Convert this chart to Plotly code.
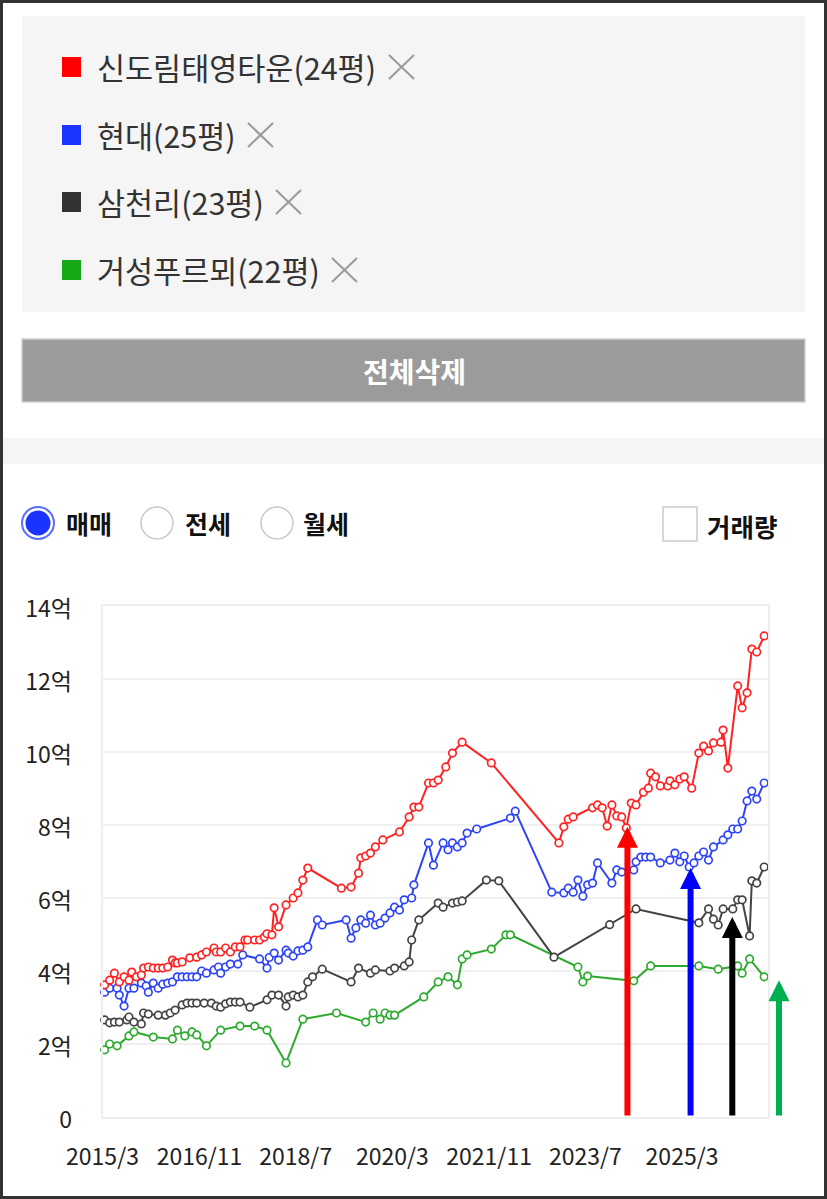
import plotly.graph_objects as go

W, H = 827, 1199
KR = "Noto Sans CJK KR"

# ---- data (억 원) ----
red_dates = ["2015-03-15", "2015-04-15", "2015-05-15", "2015-06-15", "2015-07-15", "2015-08-15",
             "2015-09-01", "2015-10-01", "2015-11-01", "2015-11-15", "2015-12-15", "2016-01-15",
             "2016-02-15", "2016-03-15", "2016-04-15", "2016-05-15", "2016-06-01", "2016-06-15",
             "2016-07-15", "2016-09-01", "2016-10-15", "2016-11-15", "2016-12-15", "2017-02-01",
             "2017-02-15", "2017-03-15", "2017-04-15", "2017-05-15", "2017-06-15", "2017-07-15",
             "2017-08-15", "2017-09-01", "2017-10-15", "2017-11-15", "2017-12-15", "2018-01-01",
             "2018-02-01", "2018-02-15", "2018-03-15", "2018-05-01", "2018-06-15", "2018-07-15",
             "2018-08-15", "2018-09-15", "2019-04-15", "2019-06-15", "2019-08-01", "2019-08-15",
             "2019-09-15", "2019-10-15", "2019-11-15", "2020-01-01", "2020-04-15", "2020-06-15",
             "2020-07-15", "2020-08-15", "2020-10-15", "2020-11-15", "2020-12-15", "2021-02-01",
             "2021-03-15", "2021-05-15", "2021-11-15", "2023-01-15", "2023-02-15", "2023-03-15",
             "2023-04-15", "2023-08-15", "2023-09-15", "2023-10-15", "2023-11-15", "2023-12-15",
             "2024-01-15", "2024-02-15", "2024-03-15", "2024-04-15", "2024-05-15", "2024-07-01",
             "2024-08-01", "2024-08-15", "2024-09-15", "2024-10-15", "2024-12-01", "2024-12-15",
             "2025-01-15", "2025-02-15", "2025-03-15", "2025-05-01", "2025-06-15", "2025-07-15",
             "2025-08-15", "2025-09-15", "2025-11-01", "2025-11-15", "2025-12-15", "2026-02-15",
             "2026-03-15", "2026-04-15", "2026-05-15", "2026-06-15", "2026-08-01"]
red_vals = [3.62, 3.75, 3.94, 3.70, 3.84, 3.75,
            3.97, 3.84, 3.89, 4.08, 4.11, 4.08,
            4.08, 4.08, 4.11, 4.30, 4.22, 4.22,
            4.25, 4.36, 4.38, 4.44, 4.52, 4.63,
            4.52, 4.52, 4.63, 4.52, 4.66, 4.66,
            4.85, 4.85, 4.85, 4.85, 4.93, 5.02,
            4.99, 5.73, 5.21, 5.81, 6.00, 6.14,
            6.49, 6.82, 6.27, 6.30, 6.68, 7.10,
            7.15, 7.23, 7.40, 7.59, 7.81, 8.22,
            8.49, 8.49, 9.15, 9.15, 9.23, 9.59,
            9.97, 10.27, 9.70, 7.51, 7.95, 8.16,
            8.22, 8.47, 8.55, 8.47, 7.97, 8.55,
            8.25, 8.22, 7.92, 8.60, 8.55, 8.90,
            9.01, 9.42, 9.32, 9.07, 9.07, 9.21,
            9.10, 9.26, 9.32, 9.01, 9.97, 10.16,
            10.03, 10.25, 10.27, 10.60, 9.56, 11.81,
            11.21, 11.62, 12.82, 12.74, 13.18]

blue_dates = ["2015-03-15", "2015-04-15", "2015-06-01", "2015-06-15", "2015-07-15", "2015-08-15",
              "2015-09-15", "2015-11-01", "2015-12-01", "2015-12-15", "2016-01-15", "2016-02-15",
              "2016-03-15", "2016-04-15", "2016-05-15", "2016-06-15", "2016-07-15", "2016-08-15",
              "2016-09-15", "2016-10-15", "2016-11-15", "2016-12-15", "2017-02-01", "2017-03-01",
              "2017-03-15", "2017-04-15", "2017-05-15", "2017-07-01", "2017-08-01", "2017-11-15",
              "2018-01-01", "2018-01-15", "2018-02-15", "2018-03-15", "2018-05-01", "2018-05-15",
              "2018-06-15", "2018-07-15", "2018-08-15", "2018-09-15", "2018-11-15", "2018-12-15",
              "2019-05-15", "2019-06-15", "2019-07-15", "2019-08-15", "2019-09-15", "2019-10-15",
              "2019-11-15", "2019-12-15", "2020-01-15", "2020-02-15", "2020-03-15", "2020-04-15",
              "2020-05-15", "2020-07-01", "2020-07-15", "2020-10-15", "2020-11-15", "2021-01-15",
              "2021-02-15", "2021-03-15", "2021-04-15", "2021-05-15", "2021-06-15", "2021-08-15",
              "2022-03-15", "2022-04-15", "2022-12-01", "2023-02-15", "2023-03-15", "2023-04-15",
              "2023-05-15", "2023-06-15", "2023-07-15", "2023-08-15", "2023-09-15", "2023-12-15",
              "2024-01-15", "2024-02-15", "2024-05-01", "2024-05-15", "2024-06-15", "2024-07-15",
              "2024-08-15", "2024-10-15", "2024-12-15", "2025-01-15", "2025-02-15", "2025-03-15",
              "2025-04-15", "2025-05-15", "2025-06-15", "2025-07-15", "2025-08-15", "2025-09-15",
              "2025-11-15", "2025-12-15", "2026-01-15", "2026-02-15", "2026-03-15", "2026-04-15",
              "2026-05-15", "2026-06-15", "2026-08-01"]
blue_vals = [3.42, 3.53, 3.53, 3.34, 3.04, 3.53,
             3.53, 3.67, 3.59, 3.42, 3.67, 3.53,
             3.64, 3.67, 3.70, 3.84, 3.84, 3.84,
             3.84, 3.84, 4.00, 3.94, 4.03, 4.11,
             3.94, 4.11, 4.19, 4.19, 4.44, 4.33,
             4.08, 4.37, 4.49, 4.30, 4.57, 4.49,
             4.41, 4.55, 4.57, 4.66, 5.40, 5.26,
             5.40, 4.90, 5.18, 5.40, 5.31, 5.53,
             5.26, 5.31, 5.45, 5.59, 5.75, 5.67,
             5.95, 6.00, 6.36, 7.51, 6.90, 7.51,
             7.32, 7.51, 7.40, 7.51, 7.78, 7.89,
             8.19, 8.38, 6.16, 6.14, 6.27, 6.16,
             6.49, 6.05, 6.36, 6.41, 6.96, 6.41,
             6.77, 6.71, 6.77, 6.99, 7.12, 7.12,
             7.12, 6.96, 7.04, 7.23, 6.99, 7.15,
             6.85, 6.96, 7.15, 7.26, 7.04, 7.40,
             7.59, 7.73, 7.89, 7.89, 8.11, 8.66,
             8.93, 8.71, 9.15]

black_dates = ["2015-03-15", "2015-04-15", "2015-05-15", "2015-06-15", "2015-08-01", "2015-08-15",
               "2015-09-15", "2015-11-01", "2015-11-15", "2015-12-15", "2016-02-15", "2016-04-01",
               "2016-05-01", "2016-06-01", "2016-07-15", "2016-08-15", "2016-09-15", "2016-10-15",
               "2016-12-01", "2017-01-15", "2017-02-15", "2017-03-15", "2017-04-15", "2017-05-15",
               "2017-06-15", "2017-07-15", "2017-09-15", "2018-01-01", "2018-02-01", "2018-03-15",
               "2018-05-01", "2018-05-15", "2018-06-15", "2018-07-15", "2018-08-15", "2018-09-15",
               "2018-10-15", "2018-12-15", "2019-06-15", "2019-08-01", "2019-10-15", "2019-11-15",
               "2020-02-15", "2020-03-15", "2020-05-15", "2020-06-15", "2020-07-01", "2020-08-15",
               "2020-12-15", "2021-01-15", "2021-03-15", "2021-04-15", "2021-05-15", "2021-10-15",
               "2022-01-01", "2022-12-15", "2023-12-01", "2024-05-15", "2025-06-15", "2025-08-15",
               "2025-09-15", "2025-10-15", "2025-11-15", "2026-01-15", "2026-02-15", "2026-03-15",
               "2026-05-01", "2026-05-15", "2026-06-15", "2026-08-01"]
black_vals = [2.66, 2.58, 2.60, 2.60, 2.66, 2.74,
              2.60, 2.55, 2.85, 2.82, 2.79, 2.79,
              2.85, 2.93, 3.07, 3.12, 3.12, 3.12,
              3.12, 3.12, 3.04, 3.01, 3.10, 3.15,
              3.15, 3.15, 3.01, 3.21, 3.34, 3.34,
              3.04, 3.29, 3.34, 3.29, 3.34, 3.70,
              3.84, 4.05, 3.70, 4.08, 3.94, 4.03,
              4.00, 4.08, 4.14, 4.25, 4.85, 5.40,
              5.86, 5.75, 5.86, 5.89, 5.92, 6.49,
              6.47, 4.38, 5.27, 5.70, 5.32, 5.70,
              5.42, 5.26, 5.70, 5.70, 5.95, 5.95,
              4.96, 6.47, 6.41, 6.85]

green_dates = ["2015-03-15", "2015-04-15", "2015-06-01", "2015-08-15", "2015-09-15", "2016-01-15",
               "2016-05-15", "2016-06-15", "2016-08-01", "2016-09-15", "2016-10-15", "2016-12-15",
               "2017-03-15", "2017-07-15", "2017-10-15", "2018-01-01", "2018-05-01", "2018-08-15",
               "2019-03-15", "2019-09-15", "2019-11-01", "2019-12-15", "2020-01-15", "2020-02-15",
               "2020-03-15", "2020-09-15", "2020-12-15", "2021-02-15", "2021-04-15", "2021-05-15",
               "2021-06-15", "2021-11-15", "2022-02-15", "2022-03-15", "2023-05-15", "2023-06-15",
               "2023-07-15", "2024-05-01", "2024-08-15", "2025-06-15", "2025-10-15", "2026-02-15",
               "2026-03-15", "2026-05-01", "2026-08-01"]
green_vals = [1.84, 2.00, 1.95, 2.22, 2.33, 2.19,
              2.14, 2.38, 2.22, 2.33, 2.25, 1.95,
              2.38, 2.49, 2.49, 2.38, 1.48, 2.68,
              2.85, 2.60, 2.85, 2.68, 2.85, 2.79,
              2.79, 3.29, 3.70, 3.84, 3.62, 4.33,
              4.44, 4.60, 4.99, 4.99, 4.11, 3.70,
              3.86, 3.73, 4.14, 4.14, 4.05, 4.14,
              3.94, 4.33, 3.84]

series_names = ["신도림태영타운(24평)", "현대(25평)", "삼천리(23평)", "거성푸르뫼(22평)"]
legend_colors = ["#ff0000", "#1a35ff", "#333333", "#16a816"]
line_colors = ["#ff2222", "#2f45f5", "#444444", "#2eaa2e"]

x_tickvals = ["2015-03-01", "2016-11-01", "2018-07-01", "2020-03-01", "2021-11-01", "2023-07-01", "2025-03-01"]
x_ticktext = ["2015/3", "2016/11", "2018/7", "2020/3", "2021/11", "2023/7", "2025/3"]
y_tickvals = [0, 2, 4, 6, 8, 10, 12, 14]
y_ticktext = ["0", "2억", "4억", "6억", "8억", "10억", "12억", "14억"]

# arrows: (date, tip value, colour); the last one sits right of the plot
arrow_dates = ["2024-03-22", "2025-04-24", "2026-01-12"]
arrow_tips = [7.95, 6.82, 5.48]
arrow_colors = ["#ff0000", "#0000ff", "#000000"]
green_arrow_tip = 3.75

tabs = ["매매", "전세", "월세"]


def px(x):
    return x / W


def py(y):
    return 1 - y / H


def rect(x0, y0, x1, y1, **kw):
    return dict(type="rect", xref="paper", yref="paper",
                x0=px(x0), x1=px(x1), y0=py(y0), y1=py(y1), layer="below", **kw)


def circle(cx, cy, r, **kw):
    return dict(type="circle", xref="paper", yref="paper",
                x0=px(cx - r), x1=px(cx + r), y0=py(cy + r), y1=py(cy - r), **kw)


def line(x0, y0, x1, y1, **kw):
    return dict(type="line", xref="paper", yref="paper",
                x0=px(x0), x1=px(x1), y0=py(y0), y1=py(y1), **kw)


def label(x, y, text, size, color="#222", xanchor="left", bold=False):
    if bold:
        text = "<b>" + text + "</b>"
    return dict(xref="paper", yref="paper", x=px(x), y=py(y), text=text, showarrow=False,
                xanchor=xanchor, yanchor="middle", font=dict(family=KR, size=size, color=color))


fig = go.Figure()

all_dates = [red_dates, blue_dates, black_dates, green_dates]
all_vals = [red_vals, blue_vals, black_vals, green_vals]
for i in [3, 2, 1, 0]:
    fig.add_trace(go.Scatter(
        x=all_dates[i], y=all_vals[i], name=series_names[i], mode="lines+markers",
        line=dict(color=line_colors[i], width=2),
        marker=dict(symbol="circle", size=7.5, color="white",
                    line=dict(color=line_colors[i], width=1.7)),
        cliponaxis=False,
    ))

shapes = []
annotations = []

# top panel with selected complexes
shapes.append(rect(22, 16, 805, 312, fillcolor="#f5f5f5", line=dict(width=0)))
row_y = [67, 135, 202, 270]
x_marks = [389, 248, 276, 332]
for i, name in enumerate(series_names):
    yy = row_y[i]
    shapes.append(rect(62, yy - 10, 81, yy + 10, fillcolor=legend_colors[i], line=dict(width=0)))
    annotations.append(label(95, yy, name, 30.5, color="#333"))
    xm = x_marks[i]
    shapes.append(line(xm, yy - 12, xm + 25, yy + 12, line=dict(color="#9a9a9a", width=2)))
    shapes.append(line(xm, yy + 12, xm + 25, yy - 12, line=dict(color="#9a9a9a", width=2)))

# delete-all button
shapes.append(rect(22, 339, 805, 402, fillcolor="#9b9b9b", line=dict(color="#cfcfcf", width=1.5)))
annotations.append(label(414, 371, "전체삭제", 28, color="white", xanchor="center", bold=True))

# separator band
shapes.append(rect(3, 438, 824, 464, fillcolor="#f5f5f5", line=dict(width=0)))

# radio buttons and volume checkbox
radio_x = [38, 157, 277]
text_x = [64, 183, 301]
for i, t in enumerate(tabs):
    if i == 0:
        shapes.append(circle(radio_x[i], 523, 16, fillcolor="white", line=dict(color="#5b6dff", width=2)))
        shapes.append(circle(radio_x[i], 523, 12.5, fillcolor="#1a33ff", line=dict(width=0)))
    else:
        shapes.append(circle(radio_x[i], 523, 16, fillcolor="white", line=dict(color="#c9c9c9", width=1.5)))
    annotations.append(label(text_x[i], 523, t, 25, color="#111", bold=True))
shapes.append(dict(type="rect", xref="paper", yref="paper", x0=px(663), x1=px(697),
                   y0=py(541), y1=py(507), fillcolor="white", line=dict(color="#c6cbd3", width=1.5)))
annotations.append(label(705, 525, "거래량", 25.5, color="#111", bold=True))

# outer frame
shapes.append(dict(type="rect", xref="paper", yref="paper", x0=px(1.5), x1=px(825.5),
                   y0=py(1197.5), y1=py(1.5), line=dict(color="#333333", width=3)))

# arrows
for d, tip, c in zip(arrow_dates, arrow_tips, arrow_colors):
    annotations.append(dict(xref="x", yref="y", x=d, y=tip, axref="x", ayref="y", ax=d, ay=0,
                            text="", showarrow=True, arrowhead=2, arrowsize=0.7, arrowwidth=6,
                            arrowcolor=c, standoff=0, startstandoff=0))
annotations.append(dict(xref="paper", yref="y", x=px(779), y=green_arrow_tip, axref="pixel",
                        ayref="y", ax=0, ay=0, text="", showarrow=True, arrowhead=2,
                        arrowsize=0.7, arrowwidth=6, arrowcolor="#00b050", standoff=0,
                        startstandoff=0))

fig.update_layout(
    width=W, height=H,
    margin=dict(l=0, r=0, t=0, b=0, pad=0, autoexpand=False),
    paper_bgcolor="white", plot_bgcolor="white",
    showlegend=False,
    shapes=shapes,
    annotations=annotations,
    font=dict(family=KR, color="#222"),
    xaxis=dict(
        type="date", domain=[px(102.5), px(768)],
        range=["2015-03-01", "2026-08-25"],
        tickmode="array", tickvals=x_tickvals, ticktext=x_ticktext,
        showgrid=False, zeroline=False, ticks="", automargin=False,
        showline=True, mirror=True, linecolor="#eeeeee", linewidth=2,
        tickfont=dict(family=KR, size=23, color="#222"),
        ticklabelstandoff=18,
        fixedrange=True,
    ),
    yaxis=dict(
        domain=[py(1117), py(606)],
        range=[0, 14],
        tickmode="array", tickvals=y_tickvals, ticktext=y_ticktext,
        showgrid=True, gridcolor="#f0f0f0", gridwidth=2,
        zeroline=False, ticks="", automargin=False,
        showline=True, mirror=True, linecolor="#eeeeee", linewidth=2,
        tickfont=dict(family=KR, size=23, color="#222"),
        ticklabelstandoff=24, ticklabelshift=3,
        fixedrange=True,
    ),
)

fig.write_html("out.html", config={"displayModeBar": False},
               post_script="document.body.style.margin='0';")
